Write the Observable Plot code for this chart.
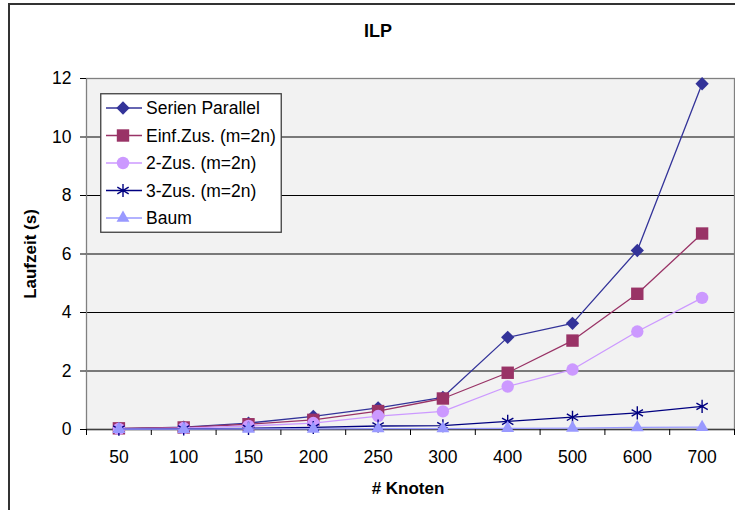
<!DOCTYPE html>
<html><head><meta charset="utf-8">
<script src="https://cdn.jsdelivr.net/npm/d3@7"></script>
<script src="https://cdn.jsdelivr.net/npm/@observablehq/plot@0.6"></script>
<style>
html,body{margin:0;padding:0;background:#fff;overflow:hidden;width:735px;height:510px;}
#wrap{position:relative;width:735px;height:510px;font-family:"Liberation Sans",Arial,sans-serif;}
#border{position:absolute;left:8px;top:3px;width:800px;height:600px;border:2px solid #333;box-sizing:border-box;}
.ov{position:absolute;transform:translate(-50%,-50%);white-space:nowrap;font-weight:bold;font-size:17px;color:#000;line-height:1;}
#chart{position:absolute;left:0;top:0;}
#legend{position:absolute;left:100px;top:93px;}
</style></head><body>
<div id="wrap">
<div id="border"></div>
<div id="chart"></div>
<div class="ov" style="left:378px;top:31px;font-size:18px">ILP</div>
<div class="ov" style="left:30px;top:254px;transform:translate(-50%,-50%) rotate(-90deg)">Laufzeit (s)</div>
<div class="ov" style="left:408px;top:488px"># Knoten</div>
<div id="legend"></div>
</div>
<script>
// ---- data ----
const categories = ["50", "100", "150", "200", "250", "300", "400", "500", "600", "700"];
const yTicks = [0, 2, 4, 6, 8, 10, 12];
const seriesNames = ["Serien Parallel", "Einf.Zus. (m=2n)", "2-Zus. (m=2n)", "3-Zus. (m=2n)", "Baum"];
const serienParallel = [0.03, 0.08, 0.22, 0.45, 0.74, 1.1, 3.15, 3.63, 6.12, 11.82];
const einfZus = [0.04, 0.07, 0.18, 0.33, 0.63, 1.06, 1.94, 3.04, 4.64, 6.7];
const zus2 = [0.02, 0.05, 0.12, 0.22, 0.46, 0.62, 1.47, 2.05, 3.35, 4.5];
const zus3 = [0.01, 0.02, 0.04, 0.07, 0.12, 0.13, 0.28, 0.42, 0.57, 0.79];
const baum = [0.01, 0.01, 0.02, 0.02, 0.03, 0.03, 0.04, 0.05, 0.07, 0.08];
const seriesValues = [serienParallel, einfZus, zus2, zus3, baum];
const seriesColors = ["#333399", "#993366", "#CC99FF", "#000080", "#9999FF"];
const seriesSymbols = ["diamond2", "square", "circle", "asterisk", "triangle"];
const seriesR = [6, 7, 6.2, 6.2, 4.8];

// ---- chart ----
const idx = d3.range(categories.length);
const series = seriesNames.map((name, k) => ({
  name, values: seriesValues[k], color: seriesColors[k], symbol: seriesSymbols[k], r: seriesR[k]
}));

const seriesMarks = series.flatMap(s => [
  Plot.line(idx, {x: i => i, y: i => s.values[i], stroke: s.color, strokeWidth: 1.3}),
  Plot.dot(idx, {
    x: i => i, y: i => s.values[i], symbol: s.symbol, r: s.r,
    fill: s.symbol === "asterisk" ? "none" : s.color,
    stroke: s.symbol === "asterisk" ? s.color : "none",
    strokeWidth: 1.4
  })
]);

const chart = Plot.plot({
  width: 735, height: 510,
  marginLeft: 86, marginRight: 1, marginTop: 78, marginBottom: 81,
  style: {fontFamily: "Liberation Sans, Arial, sans-serif", fontSize: "17.5px", background: "transparent", color: "#000", overflow: "visible"},
  x: {type: "linear", domain: [-0.5, categories.length - 0.5]},
  y: {domain: [0, 12]},
  marks: [
    Plot.frame({fill: "#f2f2f2"}),
    Plot.ruleY(yTicks.filter(t => t > 0 && t < 12), {stroke: "#000", strokeWidth: 1.2}),
    Plot.frame({stroke: "#808080", strokeWidth: 1.3}),
    Plot.ruleY([0], {stroke: "#404040", strokeWidth: 1.3}),
    Plot.axisY({ticks: yTicks, tickSize: 6, tickPadding: 9, label: null}),
    Plot.axisX({ticks: idx.concat([categories.length]).map(i => i - 0.5), tickSize: 6, tickFormat: () => "", label: null}),
    Plot.axisX({ticks: idx, tickSize: 0, tickPadding: 21, tickFormat: i => categories[i], label: null}),
    ...seriesMarks
  ]
});
document.getElementById("chart").appendChild(chart);

// ---- legend ----
const symMap = {diamond2: d3.symbolDiamond2, square: d3.symbolSquare, circle: d3.symbolCircle, asterisk: d3.symbolAsterisk, triangle: d3.symbolTriangle};
const lw = 182, lh = 140;
const lsvg = d3.select("#legend").append("svg").attr("width", lw).attr("height", lh)
  .style("font-family", "Liberation Sans, Arial, sans-serif").style("font-size", "17.5px");
lsvg.append("rect").attr("x", 0.75).attr("y", 0.75).attr("width", lw - 1.5).attr("height", lh - 1.5)
  .attr("fill", "#fff").attr("stroke", "#404040").attr("stroke-width", 1.3);
series.forEach((s, k) => {
  const g = lsvg.append("g").attr("transform", `translate(0,${15 + k * 27.5})`);
  g.append("line").attr("x1", 6).attr("x2", 42).attr("y1", 0).attr("y2", 0).attr("stroke", s.color).attr("stroke-width", 1.3);
  g.append("path").attr("transform", "translate(23,0)")
    .attr("d", d3.symbol(symMap[s.symbol], Math.PI * s.r * s.r)())
    .attr("fill", s.symbol === "asterisk" ? "none" : s.color)
    .attr("stroke", s.symbol === "asterisk" ? s.color : "none")
    .attr("stroke-width", 1.4);
  g.append("text").attr("x", 46).attr("y", 0).attr("dy", "0.35em").text(s.name);
});
</script>
</body></html>
